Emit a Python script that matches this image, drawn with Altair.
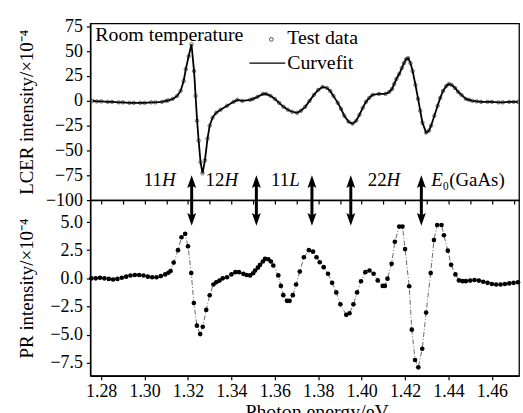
import altair as alt
import pandas as pd

# ---------------- data ----------------
lcer_e = [1.276, 1.278, 1.280, 1.283, 1.285, 1.288, 1.290, 1.293, 1.295, 1.298, 1.300,
          1.303, 1.305, 1.308, 1.310, 1.311, 1.313, 1.315, 1.3166, 1.318, 1.319, 1.3203,
          1.3216, 1.3228, 1.3235, 1.3242, 1.3249, 1.3258, 1.3267, 1.3278, 1.329, 1.330,
          1.3313, 1.333, 1.335, 1.338, 1.341, 1.3427, 1.345, 1.3486, 1.350, 1.352, 1.3546,
          1.356, 1.358, 1.360, 1.362, 1.364, 1.366, 1.368, 1.3702, 1.372, 1.374, 1.376,
          1.378, 1.380, 1.382, 1.384, 1.3855, 1.387, 1.389, 1.3905, 1.392, 1.394, 1.3958,
          1.3975, 1.399, 1.4005, 1.402, 1.4035, 1.405, 1.408, 1.411, 1.4127, 1.414, 1.415,
          1.416, 1.4173, 1.4185, 1.4195, 1.4205, 1.4214, 1.4225, 1.4235, 1.4248, 1.426,
          1.427, 1.428, 1.4297, 1.431, 1.432, 1.4335, 1.435, 1.4362, 1.4375, 1.439, 1.4402,
          1.4415, 1.443, 1.4445, 1.446, 1.448, 1.4495, 1.451, 1.453, 1.455, 1.458, 1.460,
          1.463, 1.465, 1.468, 1.470, 1.472]
lcer_v = [0, -0.5, -0.5, -1, -1, -1.5, -1.5, -2, -2, -2, -2,
          -1.5, -1.5, -1, 0, 0.5, 2, 5, 10, 20, 32, 45,
          57, 30, 5, -20, -40, -62, -73, -60, -38, -25,
          -17, -12, -9, -5, -1, 1, 0, 1, 2, 4, 7,
          7, 5, 2, -2, -6, -9, -11, -12, -10, -6, 0,
          6, 11, 14, 13, 10, 5, -2, -8, -15, -21, -23,
          -20, -14, -7, -1, 3, 6, 7, 7, 9, 12, 17,
          22, 27, 33, 38, 42, 43, 38, 30, 16, 2,
          -10, -22, -32, -30, -25, -15, -5, 3, 10, 15, 17,
          16, 13, 9, 6, 2, 1, 0, -0.5, -1, -1, -1,
          -1.5, -1.5, -1, -1, -1]

pr_e = [1.2755, 1.2775, 1.2795, 1.2815, 1.2835, 1.2855, 1.2875, 1.2895, 1.2915, 1.2935,
        1.2955, 1.2975, 1.2995, 1.3015, 1.3035, 1.3055, 1.3075, 1.3095, 1.311, 1.312,
        1.3134, 1.3154, 1.317, 1.3187, 1.320, 1.3215, 1.3227, 1.3241, 1.3256, 1.3268,
        1.3284, 1.330, 1.3317, 1.333, 1.3345, 1.336, 1.338, 1.340, 1.3418, 1.3435,
        1.3455, 1.347, 1.3486, 1.350, 1.3509, 1.3522, 1.3532, 1.3545, 1.3555, 1.357,
        1.3582, 1.3593, 1.3616, 1.3628, 1.3639, 1.3656, 1.3668, 1.3683, 1.3698, 1.3715,
        1.3734, 1.3757, 1.3776, 1.3792, 1.3807, 1.3825, 1.3845, 1.3864, 1.3883, 1.3902,
        1.3929, 1.3944, 1.3962, 1.3979, 1.3997, 1.4017, 1.4036, 1.4055, 1.4074, 1.4097,
        1.4107, 1.4119, 1.4138, 1.4153, 1.4173, 1.4188, 1.420, 1.4219, 1.4231, 1.4246,
        1.4261, 1.4279, 1.4297, 1.4318, 1.4333, 1.4348, 1.4368, 1.4379, 1.4397, 1.4412,
        1.4432, 1.4448, 1.4465, 1.448, 1.450, 1.452, 1.454, 1.456, 1.458, 1.460,
        1.462, 1.464, 1.466, 1.468, 1.470, 1.472]
pr_v = [0.0, 0.0, 0.05, 0.0, -0.05, -0.1, -0.05, 0.05, 0.15, 0.25,
        0.3, 0.3, 0.25, 0.15, 0.1, 0.1, 0.2, 0.35, 0.5, 0.65,
        1.4, 2.5, 3.65, 3.95, 2.85, 0.47, -2.2, -4.2, -4.95, -4.3,
        -2.8, -1.5, -0.55, -0.35, -0.2, 0.0, 0.1, 0.35, 0.55, 0.55,
        0.4, 0.3, 0.26, 0.45, 0.7, 0.95, 1.2, 1.5, 1.73, 1.7,
        1.5, 1.14, 0.26, -0.67, -1.49, -2.0, -2.0, -1.49, -0.55, 0.6,
        1.87, 2.5, 2.37, 1.87, 1.43, 0.99, 0.41, -0.4, -1.25, -2.31,
        -3.24, -3.1, -2.31, -1.25, -0.26, 0.55, 0.7, 0.41, -0.18, -0.67,
        -0.67, -0.03, 1.29, 3.25, 4.6, 4.6, 2.6, -0.7, -4.56, -7.25,
        -7.9, -6.25, -3.04, 0.47, 3.4, 4.74, 4.74, 3.83, 2.46, 1.2,
        0.35, -0.18, -0.25, -0.25, -0.2, -0.15, -0.2, -0.3, -0.4, -0.5,
        -0.55, -0.55, -0.5, -0.45, -0.4, -0.35]

arrow_e = [1.3217, 1.3515, 1.3771, 1.395, 1.4275]
label_num = ["11", "12", "11", "22"]
label_letter = ["H", "H", "L", "H"]
label_e = [1.308, 1.3368, 1.3666, 1.4115]

x_labels = [1.28, 1.30, 1.32, 1.34, 1.36, 1.38, 1.40, 1.42, 1.44, 1.46]
x_minor = [1.28, 1.29, 1.30, 1.31, 1.32, 1.33, 1.34, 1.35, 1.36, 1.37,
           1.38, 1.39, 1.40, 1.41, 1.42, 1.43, 1.44, 1.45, 1.46, 1.47]
lcer_ticks = [75, 50, 25, 0, -25, -50, -75, -100]
pr_ticks = [5.0, 2.5, 0.0, -2.5, -5.0, -7.5]

FONT = "Liberation Serif"
XDOM = [1.275, 1.4725]
TOPDOM = [-100, 78]
BOTDOM = [-8.65, 6.95]
W, H_TOP, H_BOT = 432, 178, 177

lcer = pd.DataFrame({"E": lcer_e, "v": lcer_v})
pr = pd.DataFrame({"E": pr_e, "v": pr_v})
arrows = pd.DataFrame({"E": arrow_e})
labels = pd.DataFrame({"E": label_e, "num": label_num, "let": label_letter})

xs = alt.Scale(domain=XDOM, nice=False, zero=False)
ys_top = alt.Scale(domain=TOPDOM, nice=False, zero=False)
ys_bot = alt.Scale(domain=BOTDOM, nice=False, zero=False)

AX = dict(labelFont=FONT, titleFont=FONT, labelFontSize=18, labelOverlap=False,
          labelColor="black", titleColor="black", titleFontWeight="normal",
          tickSize=4, domainColor="black", tickColor="black")

x_top = alt.X("E:Q", scale=xs,
              axis=alt.Axis(values=x_minor, labels=False, title=None, orient="bottom", **AX))
y_top = alt.Y("v:Q", scale=ys_top,
              axis=alt.Axis(values=lcer_ticks, title="LCER intensity/×10⁻⁴", titleX=-58,
                            titleBaseline="alphabetic", titleFontSize=19,
                            labelPadding=4, **AX))
y2_top = alt.Y2("v2:Q")

top_line = alt.Chart(lcer).mark_line(color="black", strokeWidth=1.8).encode(x=x_top, y=y_top)
top_pts = alt.Chart(lcer).mark_point(shape="circle", filled=False, color="black",
                                      size=12, strokeWidth=0.8).encode(x=x_top, y=y_top)

def tx(text, e, v, size=20, style="normal", align="left"):
    return alt.Chart(pd.DataFrame({"E": [e], "v": [v], "t": [text]})).mark_text(
        font=FONT, fontSize=size, fontStyle=style, align=align, baseline="alphabetic",
        color="black").encode(x=x_top, y=y_top, text="t:N")

room = tx("Room temperature", 1.2773, 60)
test_t = tx("Test data", 1.3657, 57)
curve_t = tx("Curvefit", 1.3657, 32)
test_sym = alt.Chart(pd.DataFrame({"E": [1.3584], "v": [62]})).mark_point(
    shape="circle", filled=False, color="black", size=14, strokeWidth=1).encode(
    x=x_top, y=y_top)
curve_sym = alt.Chart(pd.DataFrame({"E": [1.3483], "E2": [1.3648], "v": [38]})).mark_rule(
    color="black", strokeWidth=1.3).encode(x=x_top, x2="E2:Q", y=y_top)

up_path = "M0,-1L0.56,0.6L0,0.3L-0.56,0.6Z"
down_path = "M0,1L0.56,-0.6L0,-0.3L-0.56,-0.6Z"

top_arrows = alt.Chart(arrows).transform_calculate(v="-83", v2="-100")
top_shaft = top_arrows.mark_rule(color="black", strokeWidth=3).encode(
    x=x_top, y=y_top, y2=y2_top)
top_head = top_arrows.mark_point(shape=up_path, filled=True, color="black",
                                 size=256, opacity=1).encode(x=x_top, y=y_top)

lab_base = alt.Chart(labels).transform_calculate(v="-86")
lab_num = lab_base.mark_text(font=FONT, fontSize=19, align="right",
                             baseline="alphabetic", color="black").encode(
    x=x_top, y=y_top, text="num:N")
lab_let = lab_base.mark_text(font=FONT, fontSize=19, align="left", fontStyle="italic",
                             baseline="alphabetic", color="black").encode(
    x=x_top, y=y_top, text="let:N")
e0_a = tx("E", 1.4321, -86, size=19, style="italic")
e0_b = tx("₀(GaAs)", 1.4373, -86, size=19)

top = alt.layer(top_line, top_pts, room, test_t, curve_t, test_sym, curve_sym,
                top_shaft, top_head, lab_num, lab_let, e0_a, e0_b).properties(
    width=W, height=H_TOP)

x_bot = alt.X("E:Q", scale=xs,
              axis=alt.Axis(values=x_labels, format=".2f", title="Photon energy/eV",
                            titleFontSize=20, labelPadding=3, labelBaseline="top",
                            titleBaseline="top", titleY=26, titleX=228, **AX))
y_bot = alt.Y("v:Q", scale=ys_bot,
              axis=alt.Axis(values=pr_ticks, format=".1f", title="PR intensity/×10⁻⁴",
                            titleX=-58, titleBaseline="alphabetic", titleFontSize=19,
                            labelPadding=4, **AX))

bot_line = alt.Chart(pr).mark_line(color="#444444", strokeWidth=0.8,
                                   strokeDash=[5, 2, 1, 2]).encode(x=x_bot, y=y_bot)
bot_pts = alt.Chart(pr).mark_circle(color="black", size=22, opacity=1).encode(x=x_bot, y=y_bot)
bot_arrows = alt.Chart(arrows).transform_calculate(v="5.37", v2="6.95")
bot_shaft = bot_arrows.mark_rule(color="black", strokeWidth=3).encode(
    x=x_bot, y=y_bot, y2=alt.Y2("v2:Q"))
bot_head = bot_arrows.mark_point(shape=down_path, filled=True, color="black",
                                 size=256, opacity=1).encode(x=x_bot, y=y_bot)

bottom = alt.layer(bot_line, bot_pts, bot_shaft, bot_head).properties(width=W, height=H_BOT)

chart = alt.vconcat(top, bottom, spacing=0, bounds="flush").properties(
    padding={"left": 17, "top": 15, "right": 0, "bottom": 0},
    background="white",
).configure_view(stroke="black", strokeWidth=1.3).configure_axis(
    grid=False, domainWidth=1.3, tickWidth=1.2, labelOverlap=False,
).configure_concat(spacing=0)

chart.save("out.html", embed_options={"renderer": "svg", "actions": False})
